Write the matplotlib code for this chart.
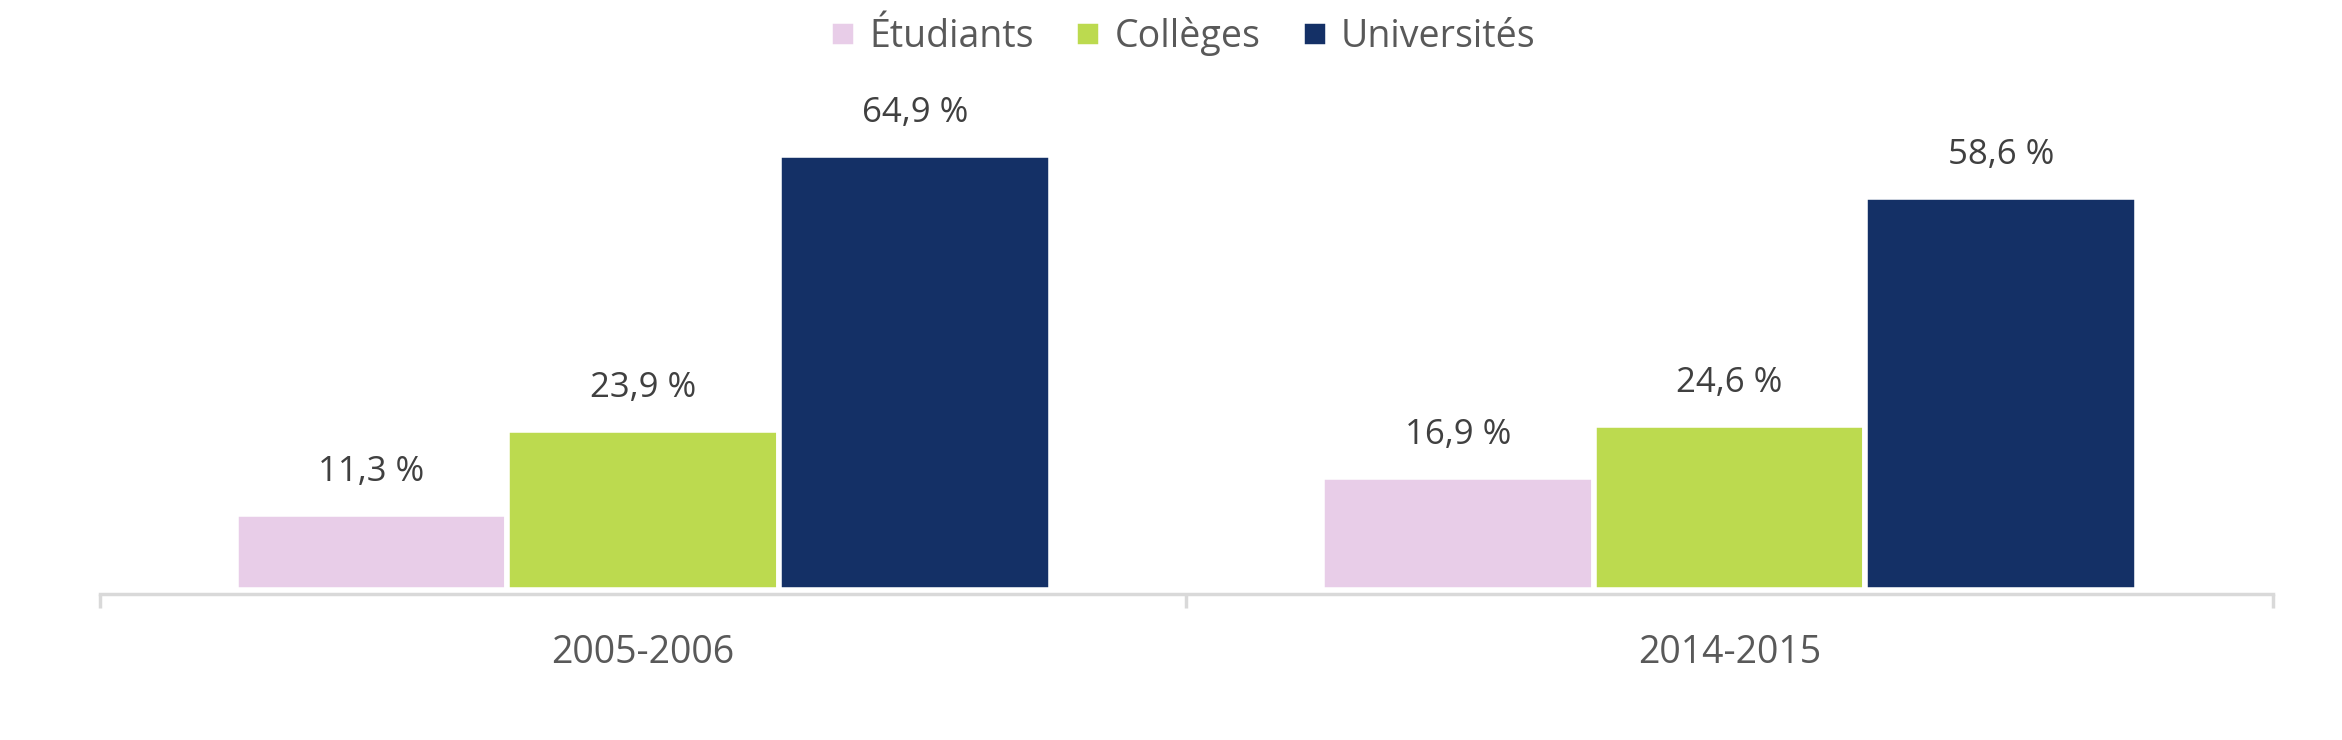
import numpy as np
import matplotlib
matplotlib.use("Agg")
import matplotlib.pyplot as plt

plt.rcParams['font.family'] = ['Open Sans', 'DejaVu Sans']

YEARS = ["2005-2006", "2014-2015"]
SERIES = ["Étudiants", "Collèges", "Universités"]
ETUDIANTS = [11.3, 16.9]
COLLEGES = [23.9, 24.6]
UNIVERSITES = [64.9, 58.6]
COLORS = ["#E8CDE8", "#BCDA4F", "#143066"]

values = [ETUDIANTS, COLLEGES, UNIVERSITES]

fig = plt.figure(figsize=(23.42, 7.4), dpi=100)
ax = fig.add_axes([0.0427, 0.197, 0.9278, 0.695])

x = np.arange(len(YEARS))
width = 0.25
for i, (name, vals, col) in enumerate(zip(SERIES, values, COLORS)):
    pos = x + (i - 1) * width
    bars = ax.bar(pos, vals, width, color=col, edgecolor="white",
                  linewidth=4, label=name, zorder=2)
    for b, v in zip(bars, vals):
        ax.annotate(f"{v:.1f} %".replace(".", ","),
                    (b.get_x() + b.get_width() / 2, v),
                    xytext=(0, 18), textcoords="offset points",
                    ha="center", va="bottom", fontsize=25, color="#404040")

ax.set_xlim(-0.5, 1.5)
ax.set_ylim(-0.6, 76.1)
ax.set_yticks([])
for s in ["top", "right", "left"]:
    ax.spines[s].set_visible(False)
ax.spines["bottom"].set_color("#D9D9D9")
ax.spines["bottom"].set_linewidth(2.5)

ax.set_xticks([-0.5, 0.5, 1.5], minor=False)
ax.set_xticklabels([])
ax.tick_params(axis="x", which="major", length=10, width=2.5, color="#D9D9D9")
ax.set_xticks(x, minor=True)
ax.set_xticklabels(YEARS, minor=True, fontsize=27, color="#595959")
ax.tick_params(axis="x", which="minor", length=0, pad=29)

fig.legend(loc="upper center", bbox_to_anchor=(0.505, 1.022), ncol=3,
           frameon=False, fontsize=27, handlelength=0.7, handleheight=0.7,
           handletextpad=0.35, columnspacing=1.1, labelcolor="#595959")

fig.savefig("out.png", dpi=100, facecolor="white")
